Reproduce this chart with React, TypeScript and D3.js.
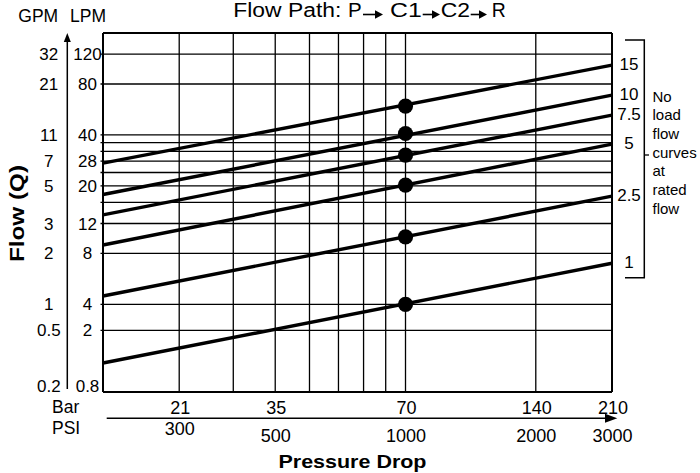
import React from "react";
import * as d3 from "d3";

// ---- data ----
const psiDomain = [200, 3000];
const psiGrid = [300, 400, 500, 600, 700, 800, 900, 1000, 2000];
const psiTicks = [300, 500, 1000, 2000, 3000];
const psiTickLabels = ["300", "500", "1000", "2000", "3000"];
const barTickLabels = ["21", "35", "70", "140", "210"];

const lpmGrid = [2, 4, 8, 12, 16, 20, 24, 28, 32, 36, 40, 80, 120];
const lpmTicks = [120, 80, 40, 28, 20, 12, 8, 4, 2, 0.8];
const lpmTickLabels = ["120", "80", "40", "28", "20", "12", "8", "4", "2", "0.8"];
const gpmTickLabels = ["32", "21", "11", "7", "5", "3", "2", "1", "0.5", "0.2"];

const ratedGpm = ["15", "10", "7.5", "5", "2.5", "1"];
const flowAtMinPsi = [27.3, 17.8, 13.5, 8.96, 4.48, 1.23];
const flowAtMaxPsi = [103.4, 68.7, 52.4, 35.3, 17.4, 6.99];
const refPsi = 1000;
const flowAtRefPsi = [59.2, 40.8, 30.4, 20.2, 10.0, 4.0];

const noteLines = ["No", "load", "flow", "curves", "at", "rated", "flow"];

const FONT = "'Liberation Sans', Arial, Helvetica, sans-serif";

export default function App() {
  const left = 103, right = 612, top = 33, bottom = 392;
  const x = d3.scaleLog().domain(psiDomain).range([left, right]);
  const y = d3
    .scaleLog()
    .domain([0.8, 2, 4, 160])
    .range([bottom, 330.3, 304.3, top]);

  const line = d3
    .line<[number, number]>()
    .x((d) => x(d[0]))
    .y((d) => y(d[1]));

  const txt = { fontFamily: FONT, fill: "#000" } as const;

  return (
    <svg
      width={700}
      height={473}
      style={{ position: "absolute", left: 0, top: 0, background: "#fff" }}
    >
      <rect width={700} height={473} fill="#fff" />
      {/* title */}
      <g style={txt} fontSize={20}>
        <text x={233.3} y={16.7} textLength={108} lengthAdjust="spacingAndGlyphs">
          Flow Path:
        </text>
        <text x={348} y={16.7} textLength={13.7} lengthAdjust="spacingAndGlyphs">P</text>
        <text x={390} y={16.7} textLength={31.7} lengthAdjust="spacingAndGlyphs">C1</text>
        <text x={440.7} y={16.7} textLength={29.3} lengthAdjust="spacingAndGlyphs">C2</text>
        <text x={491.7} y={16.7} textLength={14} lengthAdjust="spacingAndGlyphs">R</text>
      </g>
      {[
        [363, 383],
        [422.7, 440],
        [470.7, 487],
      ].map(([a, b], i) => (
        <g key={i}>
          <line x1={a} x2={b - 7} y1={14.5} y2={14.5} stroke="#000" strokeWidth={1.6} />
          <path d={`M${b - 8},10.3L${b},14.5L${b - 8},18.7Z`} fill="#000" />
        </g>
      ))}

      {/* grid */}
      {psiGrid.map((p) => (
        <line key={"v" + p} x1={x(p)} x2={x(p)} y1={top} y2={bottom} stroke="#000" strokeWidth={1.3} />
      ))}
      {lpmGrid.map((v) => (
        <line key={"h" + v} x1={left - 2.5} x2={right} y1={y(v)} y2={y(v)} stroke="#000" strokeWidth={1.3} />
      ))}
      {/* frame */}
      <line x1={left} x2={right} y1={top} y2={top} stroke="#000" strokeWidth={2} />
      <line x1={left} x2={right} y1={bottom} y2={bottom} stroke="#000" strokeWidth={2} />
      <line x1={left} x2={left} y1={top} y2={bottom} stroke="#000" strokeWidth={2} />
      <line x1={right} x2={right} y1={top} y2={bottom} stroke="#000" strokeWidth={2} />

      {/* flow lines */}
      {ratedGpm.map((g, i) => (
        <path
          key={"l" + g}
          d={line([
            [psiDomain[0], flowAtMinPsi[i]],
            [psiDomain[1], flowAtMaxPsi[i]],
          ]) as string}
          fill="none"
          stroke="#000"
          strokeWidth={3.4}
        />
      ))}
      {ratedGpm.map((g, i) => (
        <circle key={"c" + g} cx={x(refPsi)} cy={y(flowAtRefPsi[i])} r={7.6} fill="#000" />
      ))}

      {/* right labels */}
      <g style={txt} fontSize={17} textAnchor="middle">
        {ratedGpm.map((g, i) => (
          <text key={"r" + g} x={629} y={y(flowAtMaxPsi[i]) + 4.5}>
            {g}
          </text>
        ))}
      </g>
      {/* bracket */}
      <path d="M625,40H644.3V277.7H625" fill="none" stroke="#000" strokeWidth={1.5} />
      <line x1={644.3} x2={649} y1={155} y2={155} stroke="#000" strokeWidth={1.3} />
      <g style={txt} fontSize={15}>
        {noteLines.map((t, i) => (
          <text key={"n" + i} x={652.5} y={101.5 + i * 18.7}>
            {t}
          </text>
        ))}
      </g>

      {/* left axis */}
      <g style={txt} fontSize={17.5}>
        <text x={18.3} y={21.7}>GPM</text>
        <text x={70} y={21.7}>LPM</text>
      </g>
      <line x1={67.3} x2={67.3} y1={41} y2={389} stroke="#000" strokeWidth={1.5} />
      <path d="M63.8,42L67.3,33L70.8,42Z" fill="#000" />
      <g style={txt} fontSize={17} textAnchor="middle">
        {lpmTicks.map((v, i) => (
          <g key={"yl" + v}>
            <text x={87.5} y={Math.min(y(v) + 6, 391.5)}>{lpmTickLabels[i]}</text>
            <text x={48.8} y={Math.min(y(v) + 6, 391.5)}>{gpmTickLabels[i]}</text>
          </g>
        ))}
      </g>
      <text
        style={txt}
        fontSize={20}
        fontWeight="bold"
        textAnchor="middle"
        textLength={97}
        lengthAdjust="spacingAndGlyphs"
        transform="translate(24,213.5) rotate(-90)"
      >
        Flow (Q)
      </text>

      {/* bottom axis */}
      <g style={txt} fontSize={17.5}>
        <text x={52} y={413.3}>Bar</text>
        <text x={52} y={434.3}>PSI</text>
      </g>
      <line x1={106.7} x2={608} y1={418.3} y2={418.3} stroke="#000" strokeWidth={1.5} />
      <path d="M605,413.8L617.3,418.3L605,422.8Z" fill="#000" />
      <g style={txt} fontSize={18} textAnchor="middle">
        {psiTicks.map((p, i) => (
          <g key={"xt" + p}>
            <text x={x(p) + 1} y={413.5}>{barTickLabels[i]}</text>
            <text x={x(p) + 0.5} y={i === 0 ? 435 : 441.5}>{psiTickLabels[i]}</text>
          </g>
        ))}
      </g>
      <text
        style={txt}
        x={352.5}
        y={468}
        fontSize={19}
        fontWeight="bold"
        textAnchor="middle"
        textLength={148}
        lengthAdjust="spacingAndGlyphs"
      >
        Pressure Drop
      </text>
    </svg>
  );
}
